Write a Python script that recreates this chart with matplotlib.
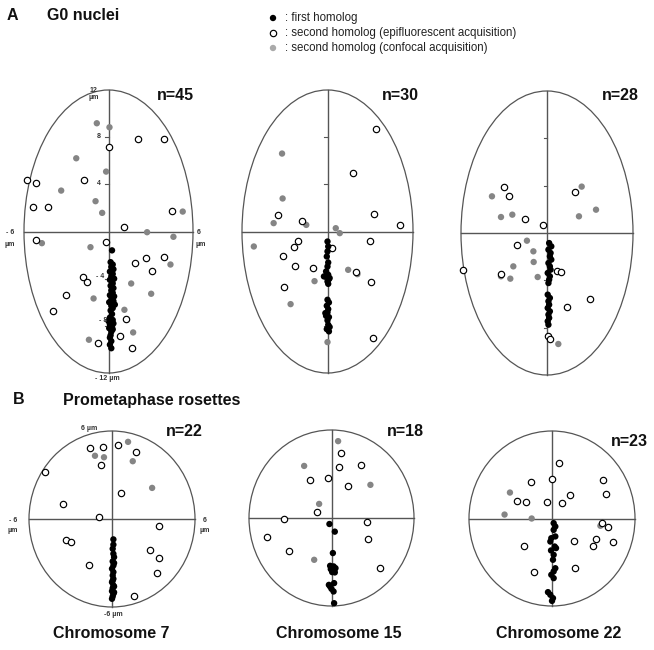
import matplotlib
matplotlib.use('Agg')
import matplotlib.pyplot as plt
from matplotlib.patches import Ellipse

plt.rcParams['font.family'] = ['Liberation Sans', 'DejaVu Sans']

# ---------------- data (µm) ----------------
# Panel A1 : G0 nuclei, chromosome 7
a1_gray_x = [-0.83, 0.07, -2.29, -0.17, -3.36, -0.92, -0.45, 5.27, 2.74, 4.61, -4.73, -1.28, 4.40, 1.61, 3.03, -1.06, 1.13, 1.75, -1.39]
a1_gray_y = [9.18, 8.84, 6.21, 5.08, 3.47, 2.57, 1.58, 1.69, -0.06, -0.45, -0.99, -1.33, -2.80, -4.41, -5.28, -5.68, -6.64, -8.56, -9.18]
a1_open_x = [0.0, 2.08, 3.97, -5.79, -5.15, -1.75, -5.34, -4.28, 4.54, 1.13, -5.18, -0.19, 1.91, 2.67, 3.92, 3.07, -1.82, -1.51, -3.05, -3.95, 1.21, 0.83, -0.73, 1.68]
a1_open_y = [7.20, 7.85, 7.85, 4.38, 4.12, 4.35, 2.09, 2.09, 1.72, 0.37, -0.71, -0.85, -2.66, -2.26, -2.15, -3.31, -3.87, -4.27, -5.40, -6.75, -7.46, -8.87, -9.46, -9.86]
a1_black_x = [0.25, 0.15, 0.3, 0.2, 0.35, 0.1, 0.3, 0.2, 0.4, 0.1, 0.25, 0.3, 0.15, 0.35, 0.2, 0.3, 0.1, 0.4, 0.25, 0.2,
              0.35, 0.05, 0.3, 0.45, 0.2, 0.3, 0.15, 0.25, 0.1, 0.3, 0.0, 0.2, 0.35, 0.1, 0.25, 0.05, 0.3, 0.2, 0.15, 0.1,
              0.2, 0.1, 0.2]
a1_black_y = [-1.6, -2.6, -2.8, -3.0, -3.2, -3.4, -3.6, -3.8, -4.0, -4.1, -4.2, -4.4, -4.6, -4.8, -5.0, -5.2, -5.4, -5.5, -5.6, -5.8,
              -5.9, -6.0, -6.1, -6.2, -6.3, -6.5, -6.7, -7.0, -7.3, -7.5, -7.6, -7.7, -7.8, -7.9, -8.1, -8.2, -8.3, -8.5, -8.8, -9.0,
              -9.3, -9.6, -9.9]

# Panel A2 : G0 nuclei, chromosome 15
a2_gray_x = [-3.19, -3.15, -3.78, -1.49, 0.58, 0.86, -5.17, 1.45, 2.10, -0.91, -2.59, 0.0]
a2_gray_y = [6.61, 2.80, 0.71, 0.56, 0.28, -0.14, -1.27, -3.25, -3.62, -4.21, -6.16, -9.38]
a2_open_x = [3.43, 1.77, -3.47, -1.82, 3.26, 5.08, -2.10, -2.38, 0.30, 2.98, -3.15, -2.26, -1.00, 2.00, 3.05, -3.03, 3.19]
a2_open_y = [8.70, 4.97, 1.38, 0.85, 1.47, 0.59, -0.79, -1.33, -1.36, -0.79, -2.09, -2.91, -3.08, -3.42, -4.29, -4.72, -9.04]
a2_black_x = [0.0, 0.05, 0.0, -0.05, 0.05, 0.0, -0.1, 0.05, -0.25, 0.1, 0.0, 0.05, 0.15, 0.0, 0.1, -0.05, 0.05, 0.0, -0.15, -0.1,
              0.1, 0.0, 0.05, 0.15, -0.05, 0.1]
a2_black_y = [-0.85, -1.27, -1.69, -2.12, -2.63, -2.97, -3.39, -3.67, -3.81, -4.04, -4.24, -4.44, -3.95, -5.79, -6.02, -6.30, -6.58, -6.86, -6.92, -7.15,
              -7.26, -7.54, -7.91, -8.10, -8.28, -8.47]

# Panel A3 : G0 nuclei, chromosome 22
a3_gray_x = [-3.84, -3.21, -2.42, 2.42, 3.42, 2.23, -1.40, -0.95, -0.93, -2.35, -3.21, -2.56, -0.65, 0.79]
a3_gray_y = [3.10, 1.35, 1.55, 3.92, 1.97, 1.41, -0.65, -1.55, -2.45, -2.82, -3.66, -3.86, -3.72, -9.38]
a3_open_x = [-2.98, -2.67, -1.53, -0.30, 1.93, -2.07, -5.86, -3.19, 0.67, 0.98, 2.98, 1.42, 0.05, 0.23]
a3_open_y = [3.89, 3.10, 1.21, 0.65, 3.46, -1.01, -3.13, -3.44, -3.18, -3.30, -5.61, -6.28, -8.70, -8.99]
a3_black_x = [0.15, 0.3, 0.1, 0.25, 0.2, 0.3, 0.1, 0.2, 0.25, 0.05, 0.2, 0.15, 0.1, 0.05, 0.2, 0.1, 0.15, 0.05, 0.2, 0.1,
              0.15, 0.05, 0.1]
a3_black_y = [-0.85, -1.13, -1.41, -1.69, -1.97, -2.25, -2.54, -2.82, -3.10, -3.38, -3.66, -3.94, -4.23, -5.21, -5.49, -5.77, -6.06, -6.34, -6.62, -6.90,
              -7.18, -7.46, -7.75]

# Panel B1 : prometaphase rosettes, chromosome 7
b1_gray_x = [1.16, -1.23, -0.58, 1.50, 2.90]
b1_gray_y = [5.26, 4.31, 4.21, 3.94, 2.12]
b1_open_x = [-1.59, -0.65, 0.43, 1.71, -0.82, -4.81, 0.68, -3.57, -0.97, 3.41, -3.31, -2.97, -1.64, 2.75, 3.38, 3.24, 1.59]
b1_open_y = [4.81, 4.92, 5.03, 4.58, 3.67, 3.19, 1.75, 1.05, 0.14, -0.48, -1.41, -1.57, -3.17, -2.10, -2.64, -3.69, -5.24]
b1_black_x = [0.1, 0.1, 0.05, 0.1, 0.15, 0.05, 0.1, 0.0, 0.1, 0.05, 0.1, 0.0, 0.1, 0.05, 0.0, 0.1, 0.05, 0.0, 0.15, 0.05, 0.15, 0.15]
b1_black_y = [-1.39, -1.75, -2.03, -2.37, -2.60, -2.89, -3.17, -3.39, -3.62, -3.85, -4.08, -4.31, -4.53, -4.72, -4.92, -5.10, -5.28, -5.44, -3.00, -4.20, -4.60, -5.00]

# Panel B2 : prometaphase rosettes, chromosome 15
b2_gray_x = [0.48, -1.99, 2.83, -0.90, -1.26]
b2_gray_y = [5.24, 3.55, 2.26, 0.96, -2.85]
b2_open_x = [0.70, 0.51, 2.11, -1.60, -0.29, 1.19, -1.02, -3.49, 2.57, -4.70, 2.64, -3.10, 3.51]
b2_open_y = [4.40, 3.49, 3.60, 2.62, 2.76, 2.16, 0.43, -0.09, -0.30, -1.30, -1.41, -2.28, -3.42]
b2_black_x = [-0.15, 0.24, 0.10, -0.10, 0.15, 0.29, -0.05, 0.19, 0.05, 0.24, -0.19, 0.19, 0.0, 0.15, -0.10, 0.19]
b2_black_y = [-0.41, -0.93, -2.39, -3.26, -3.30, -3.42, -3.49, -3.60, -3.69, -3.71, -4.56, -4.44, -4.83, -5.01, -4.67, -5.81]

# Panel B3 : prometaphase rosettes, chromosome 22
b3_gray_x = [-3.04, -3.43, -1.47, 3.50]
b3_gray_y = [1.78, 0.27, 0.00, -0.50]
b3_open_x = [0.48, 0.02, -1.52, 3.70, 3.91, -2.56, -1.86, -0.36, 0.70, 1.28, 3.62, 4.06, 1.59, 3.19, 2.97, 4.44, -2.00, -1.30, 1.67]
b3_open_y = [3.79, 2.74, 2.47, 2.67, 1.67, 1.22, 1.10, 1.15, 1.03, 1.58, -0.34, -0.61, -1.53, -1.40, -1.88, -1.58, -1.88, -3.65, -3.40]
b3_black_x = [0.12, 0.24, 0.12, -0.05, -0.12, 0.19, 0.29, -0.07, 0.12, 0.24, 0.12, -0.05, 0.12, -0.29, -0.12, 0.07, 0.0, 0.24, 0.07]
b3_black_y = [-0.32, -0.55, -0.78, -1.35, -1.58, -1.92, -2.03, -2.19, -2.49, -3.41, -3.63, -3.86, -4.09, -5.05, -5.23, -5.46, -5.65, -1.23, -2.83]

n_labels = ['n=45', 'n=30', 'n=28', 'n=22', 'n=18', 'n=23']
chromosomes = ['Chromosome 7', 'Chromosome 15', 'Chromosome 22']

# ---------------- figure ----------------
W, H = 654, 650
fig = plt.figure(figsize=(W / 100, H / 100), dpi=100)

GRAY = '#858585'
LINE = '#555555'
MS = 21


def px_axes(x0, y0, x1, y1):
    return fig.add_axes([x0 / W, 1 - y1 / H, (x1 - x0) / W, (y1 - y0) / H])


def ftxt(x, y, s, **kw):
    fig.text(x / W, 1 - y / H, s, **kw)


def panel(box, rx, ry, gx, gy, ox, oy, bx, by, ticks):
    ax = px_axes(*box)
    ax.set_xlim(-rx, rx)
    ax.set_ylim(-ry, ry)
    ax.axis('off')
    ax.add_patch(Ellipse((0, 0), 2 * rx, 2 * ry, fill=False, ec=LINE, lw=0.9, clip_on=False))
    ax.plot([-rx, rx], [0, 0], color=LINE, lw=1.0, clip_on=False, zorder=2)
    ax.plot([0, 0], [-ry, ry], color=LINE, lw=1.0, clip_on=False, zorder=2)
    for t in ticks:
        ax.plot([-0.22, 0], [t, t], color=LINE, lw=0.8, clip_on=False, zorder=2)
    ax.scatter(gx, gy, s=MS, c=GRAY, edgecolors='none', zorder=3, clip_on=False)
    ax.scatter(ox, oy, s=MS, facecolors='white', edgecolors='black', linewidths=0.85, zorder=3, clip_on=False)
    ax.scatter(bx, by, s=MS, c='black', edgecolors='none', zorder=4, clip_on=False)
    return ax


tA = [8, 4, -4, -8]
panel((24, 90, 193, 373), 6, 12, a1_gray_x, a1_gray_y, a1_open_x, a1_open_y, a1_black_x, a1_black_y, tA)
panel((242, 90, 413, 373), 6, 12, a2_gray_x, a2_gray_y, a2_open_x, a2_open_y, a2_black_x, a2_black_y, tA)
panel((461, 91, 633, 375), 6, 12, a3_gray_x, a3_gray_y, a3_open_x, a3_open_y, a3_black_x, a3_black_y, tA)
panel((29, 431, 195, 607), 6, 6, b1_gray_x, b1_gray_y, b1_open_x, b1_open_y, b1_black_x, b1_black_y, [])
panel((249, 430, 414, 606), 6, 6, b2_gray_x, b2_gray_y, b2_open_x, b2_open_y, b2_black_x, b2_black_y, [])
panel((469, 431, 635, 606), 6, 6, b3_gray_x, b3_gray_y, b3_open_x, b3_open_y, b3_black_x, b3_black_y, [])

# ---------------- texts ----------------
BOLD = dict(fontsize=11.5, fontweight='bold', color='#111111', va='center')
ftxt(7, 16, 'A', ha='left', **BOLD)
ftxt(47, 16, 'G0 nuclei', ha='left', **BOLD)
ftxt(13, 400, 'B', ha='left', **BOLD)
ftxt(63, 400, 'Prometaphase rosettes', ha='left', **BOLD)

n_pos = [(157, 95), (382, 95), (602, 95), (166, 431), (387, 431), (611, 442)]
for (x, y), s in zip(n_pos, n_labels):
    ftxt(x, y, s, ha='left', **BOLD)

for x, s in zip([111, 339, 559], chromosomes):
    ftxt(x, 633, s, ha='center', **BOLD)

# legend
legend_labels = [': first homolog',
                 ': second homolog (epifluorescent acquisition)',
                 ': second homolog (confocal acquisition)']
lax = fig.add_axes([0, 0, 1, 1], facecolor='none')
lax.set_xlim(0, W)
lax.set_ylim(H, 0)
lax.axis('off')
ly = [18, 33, 48]
lax.scatter([273], [ly[0]], s=MS, c='black', edgecolors='none')
lax.scatter([273], [ly[1]], s=MS, facecolors='white', edgecolors='black', linewidths=0.85)
lax.scatter([273], [ly[2]], s=MS, c='#aaaaaa', edgecolors='none')
for y, s in zip(ly, legend_labels):
    ftxt(285, y, s, ha='left', va='center', fontsize=8.3, color='#222222')

# axis value labels
SM = dict(fontsize=5, color='#333333', ha='center', va='center', fontweight='bold')
ftxt(94, 94, '12\nµm', linespacing=0.9, **SM)
ftxt(99, 137, '8', **SM)
ftxt(99, 184, '4', **SM)
ftxt(100, 277, '- 4', **SM)
ftxt(103, 321, '- 8', **SM)
ftxt(10, 232, '- 6', **SM)
ftxt(10, 244, 'µm', **SM)
ftxt(199, 232, '6', **SM)
ftxt(201, 244, 'µm', **SM)
ftxt(107, 378, '- 12 µm', **SM)

ftxt(89, 428, '6 µm', **SM)
ftxt(13, 520, '- 6', **SM)
ftxt(13, 531, 'µm', **SM)
ftxt(205, 520, '6', **SM)
ftxt(205, 531, 'µm', **SM)
ftxt(113, 615, '-6 µm', **SM)

fig.savefig('out.png', dpi=100)
